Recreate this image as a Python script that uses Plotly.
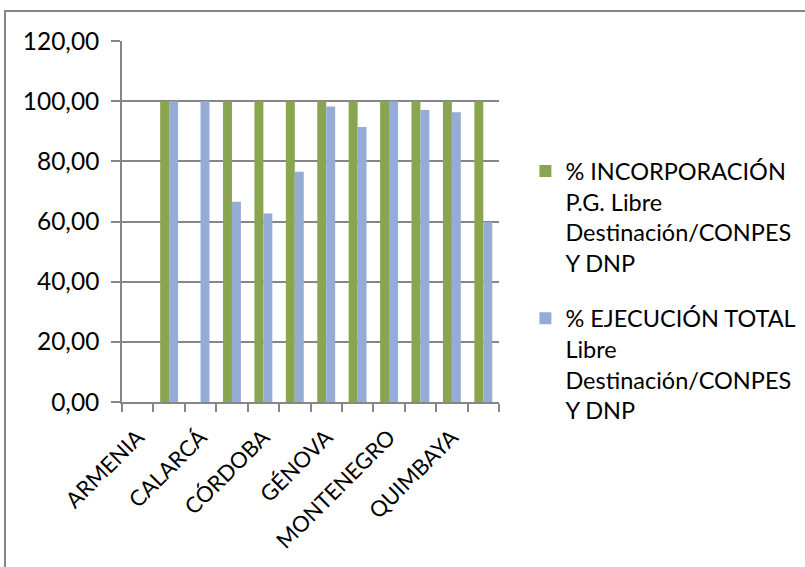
import plotly.graph_objects as go

categories = ["ARMENIA", "BUENAVISTA", "CALARCÁ", "CIRCASIA", "CÓRDOBA", "FILANDIA",
              "GÉNOVA", "LA TEBAIDA", "MONTENEGRO", "PIJAO", "QUIMBAYA", "SALENTO"]
incorporacion = [None, 100, None, 100, 100, 100, 100, 100, 100, 100, 100, 100]
ejecucion = [None, 100, 100, 66.6, 62.7, 76.5, 98.2, 91.4, 100, 97.1, 96.3, 59.8]
series_names = ["% INCORPORACIÓN<br>P.G. Libre<br>Destinación/CONPES<br>Y DNP",
                "% EJECUCIÓN TOTAL<br>Libre<br>Destinación/CONPES<br>Y DNP"]
y_ticks = [0, 20, 40, 60, 80, 100, 120]
tick_labels = [c if i % 2 == 0 else "" for i, c in enumerate(categories)]

FONT = "Lato"
GRID = "#868686"

fig = go.Figure()
fig.add_trace(go.Bar(x=categories, y=incorporacion, name=series_names[0],
                     marker=dict(color="#8AA550", line=dict(width=0))))
fig.add_trace(go.Bar(x=categories, y=ejecucion, name=series_names[1],
                     marker=dict(color="#95ACD4", line=dict(width=0))))

fig.update_layout(
    width=805, height=567,
    margin=dict(l=122, r=306, t=41, b=165, autoexpand=False),
    paper_bgcolor="white", plot_bgcolor="white",
    barmode="group", bargap=0.43, bargroupgap=0,
    separators=",.",
    font=dict(family=FONT, size=23, color="black"),
    showlegend=True,
    legend=dict(x=1.07, y=0.70, xanchor="left", yanchor="top",
                font=dict(family=FONT, size=23.5), valign="top",
                tracegroupgap=22, bgcolor="rgba(0,0,0,0)"),
    xaxis=dict(type="category", tickmode="array", tickvals=categories, ticktext=tick_labels,
               tickangle=-45, tickson="boundaries", ticks="outside", ticklen=8,
               tickcolor=GRID, tickwidth=1.5, showline=True, linecolor=GRID, linewidth=1.5,
               showgrid=False, ticklabelstandoff=12, tickfont=dict(family=FONT, size=22)),
    yaxis=dict(range=[0, 120], tickmode="array", tickvals=y_ticks, tickformat=".2f",
               ticks="outside", ticklen=9, tickcolor=GRID, tickwidth=1.5,
               showline=True, linecolor=GRID, linewidth=1.5,
               showgrid=True, gridcolor=GRID, gridwidth=1.5, zeroline=False,
               ticklabelstandoff=7, tickfont=dict(family=FONT, size=24.5)),
    shapes=[dict(type="rect", xref="paper", yref="paper", x0=-0.3103, x1=1.9,
                 y0=-0.6, y1=1.083, line=dict(color=GRID, width=2), fillcolor="rgba(0,0,0,0)",
                 layer="below")],
)
for i, tr in enumerate(fig.data):
    tr.legendgroup = f"g{i}"

fig.write_html("out.html", config={"displayModeBar": False},
               post_script="document.body.style.margin='0';")
